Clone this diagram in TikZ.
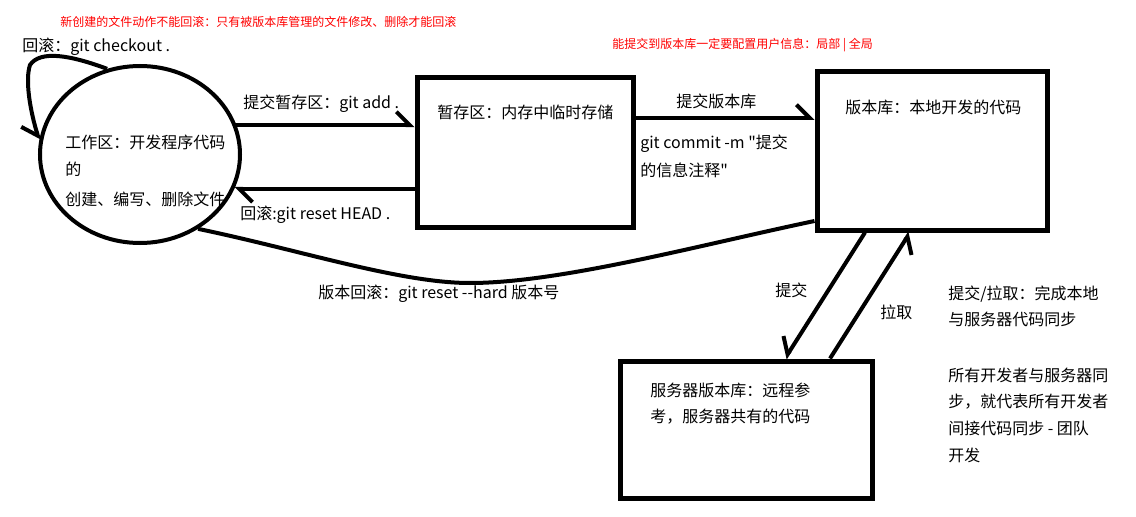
\documentclass[tikz,border=0pt]{standalone}
\usepackage{fontspec}
\setmainfont{Noto Sans CJK SC}[Ligatures=TeXOff]
\usetikzlibrary{arrows.meta,shapes.geometric}

\begin{document}
\begin{tikzpicture}[x=0.75pt,y=-0.75pt,
    every node/.style={inner sep=0pt, font=\fontsize{12}{20}\selectfont},
    txt/.style={anchor=west, align=left},
    note/.style={anchor=west, text=red, font=\fontsize{9}{11}\selectfont},
    area/.style={draw, line width=3.75pt},
    flow/.style={line width=3pt, -{Straight Barb[harpoon, length=10pt, width=20pt]}},
    flowr/.style={line width=3pt, -{Straight Barb[harpoon, swap, length=10pt, width=20pt]}}]
  \useasboundingbox (0,0) rectangle (1136,517);

  % areas
  \node[draw, line width=3pt, ellipse, minimum width=150pt, minimum height=132.75pt] (work) at (140,154.5) {};
  \node[area, minimum width=162pt, minimum height=111.75pt] (stage) at (525,152.5) {};
  \node[area, minimum width=172.5pt, minimum height=118.5pt] (repo) at (932,151) {};
  \node[area, minimum width=189pt, minimum height=102.75pt] (server) at (746,429.5) {};

  \node[txt] (worktxt) at (65,171) {工作区：开发程序代码\\的\\[3pt]创建、编写、删除文件};
  \node[txt] (stagetxt) at (437,112) {暂存区：内存中临时存储};
  \node[txt] (repotxt) at (845,107) {版本库：本地开发的代码};
  \node[txt] (servertxt) at (650,403.5) {服务器版本库：远程参\\考，服务器共有的代码};

  % hints
  \node[note] (hintwork) at (60,22) {新创建的文件动作不能回滚：只有被版本库管理的文件修改、删除才能回滚};
  \node[note] (hintrepo) at (612,45) {能提交到版本库一定要配置用户信息：局部 | 全局};

  % arrows
  \draw[flowr] (work.111) .. controls (70,55) and (40,50) .. (30,65) .. controls (25,80) and (30,110) .. (work.172);
  \draw[flow] (work.17) -- (stage.west |- work.17);
  \draw[flow] (stage.west |- work.-20) -- (work.-20);
  \draw[flow] (stage.east |- 0,118) -- (repo.west |- 0,118);
  \draw[line width=3pt] (work.-52) .. controls (300,250) and (400,283) .. (470,283) .. controls (560,283) and (700,245) .. (repo.west |- 0,221);
  \draw[flowr] (865,0 |- repo.south) -- (785,0 |- server.north);
  \draw[flowr] (830,0 |- server.north) -- (910,0 |- repo.south);

  \node[txt] (lblcheckout) at (22,47) {回滚：git checkout .};
  \node[txt] (lbladd) at (243,104) {提交暂存区：git add .};
  \node[txt] (lblreset) at (240,215) {回滚:git reset HEAD .};
  \node[txt] (lblcommit) at (676,101) {提交版本库};
  \node[txt] (lblcmd) at (640,156) {git commit -m "提交\\[1pt]的信息注释"};
  \node[txt] (lblhard) at (318,294) {版本回滚：git reset --hard 版本号};
  \node[txt] (lblpush) at (775,290) {提交};
  \node[txt] (lblpull) at (880,312) {拉取};

  \node[txt] (sync) at (948,306.5) {提交/拉取：完成本地\\与服务器代码同步};
  \node[txt] (team) at (948,415) {所有开发者与服务器同\\步，就代表所有开发者\\间接代码同步 - 团队\\开发};
\end{tikzpicture}
\end{document}
